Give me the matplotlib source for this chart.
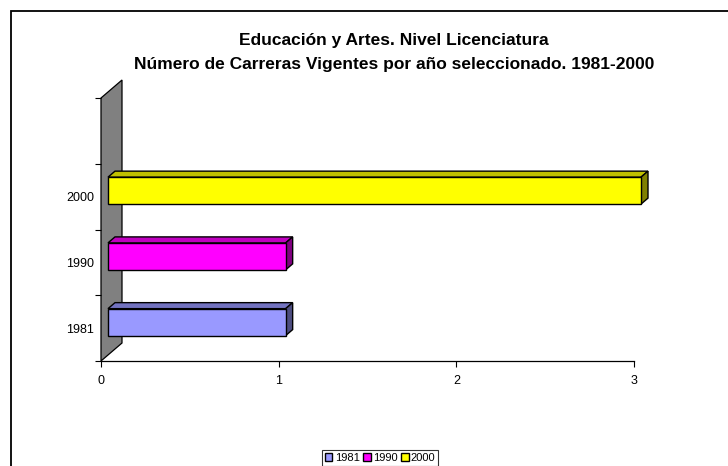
import matplotlib
matplotlib.use("Agg")
import matplotlib.pyplot as plt
from matplotlib.patches import Polygon, Rectangle
from matplotlib.transforms import ScaledTranslation

# datos
years = ['1981', '1990', '2000']
carreras = [1, 1, 3]
face_colors = ['#9999FF', '#FF00FF', '#FFFF00']
top_colors = ['#7373C0', '#C000C0', '#C0C000']
side_colors = ['#4D4D80', '#800080', '#808000']
xticks = [0, 1, 2, 3]

plt.rcParams['font.family'] = ['Liberation Sans', 'DejaVu Sans']

W, H = 728, 466
fig = plt.figure(figsize=(W / 100, H / 100), dpi=100)

# borde del area del grafico
fig.patches.append(Rectangle((11 / W, -0.2), 2, (H - 11) / H + 0.2,
                             transform=fig.transFigure, fill=False,
                             ec='black', lw=1.3))

ax = fig.add_axes([101 / W, (H - 361) / H, (634 - 101) / W, (361 - 98) / H])
ax.set_xlim(0, 3)
ax.set_ylim(-0.5, 3.5)
for s in ['top', 'right', 'left']:
    ax.spines[s].set_visible(False)
ax.spines['bottom'].set_linewidth(0.9)
ax.set_xticks(xticks)
ax.tick_params(axis='x', direction='out', length=4, width=0.8, labelsize=9, pad=6)
ax.set_yticks(range(len(years)))
ax.set_yticklabels(years)
ax.set_yticks([-0.5, 0.5, 1.5, 2.5, 3.5], minor=True)
ax.tick_params(axis='y', which='major', length=0, labelsize=9, pad=5)
ax.tick_params(axis='y', which='minor', length=4, width=0.8)
ax.patch.set_visible(False)

px = 1 / 100.0
def shift(dx, dy):
    return ax.transData + ScaledTranslation(dx * px, dy * px, fig.dpi_scale_trans)

# pared gris
wall_dx, wall_dy = 21, 18
to_disp = ax.transData.transform
(x0, y0), (x1, y1) = to_disp([(0, -0.5), (0, 3.5)])
wall = Polygon([(x0, y0), (x0 + wall_dx, y0 + wall_dy), (x1 + wall_dx, y1 + wall_dy), (x1, y1)],
               closed=True, transform=None, fc='#808080', ec='black', lw=0.9,
               zorder=1, clip_on=False)
ax.add_artist(wall)

# barras 3D
h = 0.41
fx, fy = 7, 6
dx, dy = 7, 6
for i, (v, fc, tc, sc) in enumerate(zip(carreras, face_colors, top_colors, side_colors)):
    bars = ax.barh(i, v, height=h, left=0, color=fc, edgecolor='black', linewidth=1,
                   zorder=3, label=years[i])
    for r in bars:
        r.set_transform(shift(fx, fy))
        r.set_clip_on(False)
    (ax0, ay0), (ax1, ay1) = to_disp([(0, i - h / 2), (v, i + h / 2)])
    ax0 += fx; ax1 += fx; ay0 += fy; ay1 += fy
    top = Polygon([(ax0, ay1), (ax1, ay1), (ax1 + dx, ay1 + dy), (ax0 + dx, ay1 + dy)],
                  closed=True, transform=None, fc=tc, ec='black', lw=1, zorder=2,
                  clip_on=False)
    side = Polygon([(ax1, ay0), (ax1 + dx, ay0 + dy), (ax1 + dx, ay1 + dy), (ax1, ay1)],
                   closed=True, transform=None, fc=sc, ec='black', lw=1, zorder=2,
                   clip_on=False)
    ax.add_artist(top)
    ax.add_artist(side)

fig.text(394 / W, 1 - 40 / H, 'Educación y Artes. Nivel Licenciatura',
         ha='center', va='center', fontsize=12.5, fontweight='bold')
fig.text(394 / W, 1 - 65 / H, 'Número de Carreras Vigentes por año seleccionado. 1981-2000',
         ha='center', va='center', fontsize=12.5, fontweight='bold')

leg = fig.legend(loc='center', bbox_to_anchor=(380 / W, 1 - 458 / H), ncol=3,
                 fontsize=8, frameon=True, fancybox=False, edgecolor='black',
                 handlelength=0.7, handleheight=0.7, handletextpad=0.2,
                 columnspacing=0.3, borderpad=0.25, borderaxespad=0)
leg.get_frame().set_linewidth(0.8)

fig.savefig('out.png', dpi=100)
